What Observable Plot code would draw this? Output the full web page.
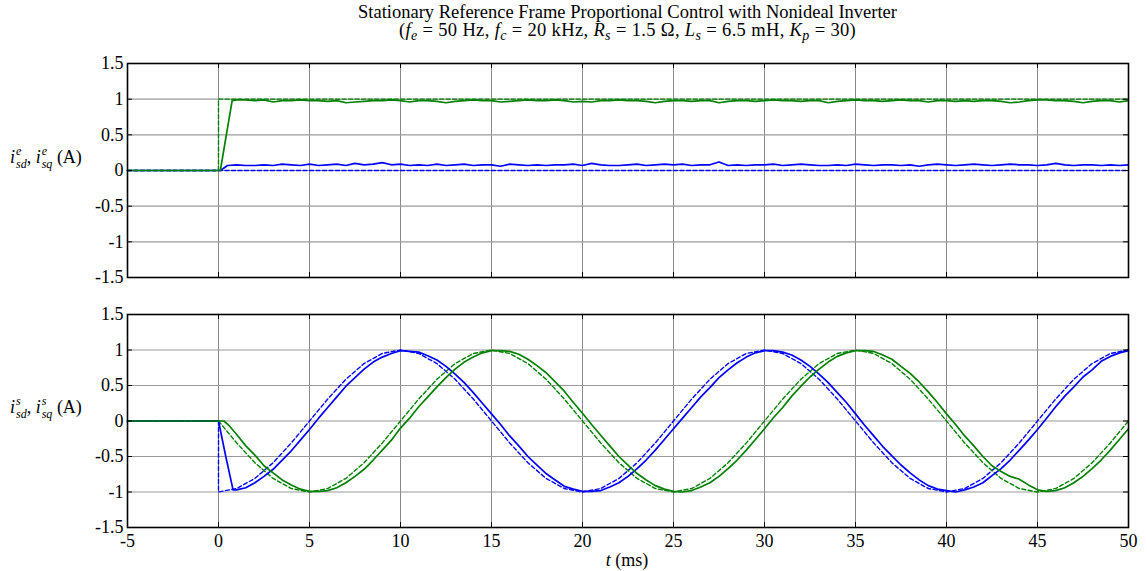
<!DOCTYPE html>
<html><head><meta charset="utf-8">
<script src="https://cdn.jsdelivr.net/npm/d3@7"></script>
<script src="https://cdn.jsdelivr.net/npm/@observablehq/plot@0.6"></script>
<style>
body{margin:0;background:#fff;}
#wrap{position:relative;width:1147px;height:571px;font-family:"Liberation Serif","Times New Roman",serif;color:#000;overflow:hidden;}
#title{position:absolute;left:127px;width:1001px;top:3px;text-align:center;font-size:18.5px;line-height:18px;white-space:nowrap;}
#title .l2{letter-spacing:0.35px;}
#title sub{font-size:14px;vertical-align:-4px;line-height:0;}
.ylab{position:absolute;left:10px;font-size:18px;white-space:nowrap;line-height:20px;}
.st{display:inline-flex;flex-direction:column;vertical-align:8px;font-size:12px;line-height:13px;font-style:italic;margin-left:1px;}
.xlab{position:absolute;left:577px;width:100px;text-align:center;top:550px;font-size:18px;}
svg{position:absolute;left:0;}
</style></head>
<body>
<div id="wrap">
  <div id="title">
    <div>Stationary Reference Frame Proportional Control with Nonideal Inverter</div>
    <div class="l2">(<i>f</i><sub><i>e</i></sub> = 50 Hz, <i>f</i><sub><i>c</i></sub> = 20 kHz, <i>R</i><sub><i>s</i></sub> = 1.5 Ω, <i>L</i><sub><i>s</i></sub> = 6.5 mH, <i>K</i><sub><i>p</i></sub> = 30)</div>
  </div>
  <div class="ylab" style="top:145px"><i>i</i><span class="st"><span>e</span><span>sd</span></span>, <i>i</i><span class="st"><span>e</span><span>sq</span></span> (A)</div>
  <div class="ylab" style="top:395px"><i>i</i><span class="st"><span>s</span><span>sd</span></span>, <i>i</i><span class="st"><span>s</span><span>sq</span></span> (A)</div>
  <div class="xlab"><i>t</i> (ms)</div>
</div>
<script>
// ---- tick labels ----
const xTicks = [-5, 0, 5, 10, 15, 20, 25, 30, 35, 40, 45, 50];
const yTicks = [-1.5, -1, -0.5, 0, 0.5, 1, 1.5];

// ---- top panel (synchronous frame) ----
const topRefDTime = [-5, 50];
const topRefD = [0, 0];
const topRefQTime = [-5, 0, 0, 50];
const topRefQ = [0, 0, 1, 1];
const topDStartTime = [-5, 0.1, 0.5];
const topDStart = [0, 0, 0.07];
const topQStartTime = [-5, 0.1, 0.75];
const topQStart = [0, 0, 0.98];
// measured currents, sampled every 0.5 ms from 1 ms to 50 ms
const topD = [0.08,0.07,0.07,0.08,0.07,0.09,0.08,0.07,0.09,0.07,0.08,0.09,0.07,0.10,0.08,0.09,0.11,0.08,0.09,0.07,
0.08,0.07,0.09,0.07,0.08,0.09,0.07,0.08,0.08,0.06,0.09,0.08,0.07,0.08,0.07,0.08,0.08,0.09,0.07,0.10,
0.08,0.07,0.07,0.08,0.09,0.07,0.08,0.09,0.08,0.09,0.07,0.08,0.08,0.12,0.07,0.08,0.07,0.08,0.08,0.09,
0.07,0.08,0.09,0.08,0.07,0.07,0.08,0.07,0.09,0.08,0.07,0.08,0.08,0.07,0.08,0.06,0.08,0.09,0.08,0.07,
0.08,0.09,0.08,0.07,0.08,0.09,0.08,0.08,0.07,0.08,0.10,0.08,0.07,0.08,0.08,0.07,0.08,0.07,0.08];
const topQ = [0.99,0.99,0.98,0.99,0.96,0.98,0.98,0.99,0.98,0.98,0.97,0.98,0.95,0.96,0.97,0.98,0.98,0.99,0.98,0.96,
0.98,0.98,0.97,0.95,0.97,0.98,0.99,0.98,0.98,0.96,0.97,0.98,0.99,0.98,0.98,0.99,0.98,0.96,0.97,0.96,
0.98,0.98,0.99,0.98,0.98,0.97,0.95,0.97,0.98,0.98,0.97,0.98,0.98,0.95,0.97,0.98,0.98,0.97,0.98,0.99,
0.98,0.98,0.97,0.98,0.98,0.95,0.97,0.98,0.99,0.98,0.98,0.97,0.98,0.99,0.98,0.98,0.96,0.98,0.98,0.97,
0.98,0.97,0.98,0.98,0.97,0.95,0.96,0.98,0.99,0.99,0.98,0.98,0.97,0.95,0.97,0.98,0.98,0.96,0.98];

// ---- bottom panel (stationary frame) ----
// references sampled every 1 ms from 0 to 50 ms
const botRefD = [-1,-0.951,-0.809,-0.588,-0.309,0,0.309,0.588,0.809,0.951,1,0.951,0.809,0.588,0.309,0,-0.309,-0.588,-0.809,-0.951,
-1,-0.951,-0.809,-0.588,-0.309,0,0.309,0.588,0.809,0.951,1,0.951,0.809,0.588,0.309,0,-0.309,-0.588,-0.809,-0.951,
-1,-0.951,-0.809,-0.588,-0.309,0,0.309,0.588,0.809,0.951,1];
const botRefQ = [0,-0.309,-0.588,-0.809,-0.951,-1,-0.951,-0.809,-0.588,-0.309,0,0.309,0.588,0.809,0.951,1,0.951,0.809,0.588,0.309,
0,-0.309,-0.588,-0.809,-0.951,-1,-0.951,-0.809,-0.588,-0.309,0,0.309,0.588,0.809,0.951,1,0.951,0.809,0.588,0.309,
0,-0.309,-0.588,-0.809,-0.951,-1,-0.951,-0.809,-0.588,-0.309,0];
const botRefDStartTime = [-5, 0];
const botRefDStart = [0, 0];
const botRefQStartTime = [-5];
const botRefQStart = [0];
const botDStartTime = [-5, 0, 0.4, 0.8];
const botDStart = [0, 0, -0.5, -0.97];
const botQStartTime = [-5, 0, 0.3, 0.6];
const botQStart = [0, 0, 0, -0.07];
// measured currents, sampled every 0.5 ms from 1 ms to 50 ms
const botD = [-0.97,-0.94,-0.87,-0.78,-0.68,-0.55,-0.42,-0.27,-0.12,0.04,0.19,0.34,0.49,0.61,0.73,0.83,0.90,0.95,0.99,0.98,
0.97,0.92,0.86,0.77,0.66,0.54,0.40,0.25,0.10,-0.05,-0.21,-0.35,-0.50,-0.62,-0.74,-0.83,-0.92,-0.96,-0.99,-0.99,
-0.98,-0.93,-0.87,-0.78,-0.67,-0.55,-0.41,-0.26,-0.11,0.04,0.19,0.34,0.47,0.61,0.72,0.82,0.90,0.96,0.99,0.99,
0.97,0.93,0.86,0.77,0.66,0.54,0.40,0.26,0.10,-0.06,-0.21,-0.36,-0.49,-0.62,-0.73,-0.83,-0.91,-0.96,-0.98,-1.00,
-0.97,-0.93,-0.87,-0.77,-0.67,-0.55,-0.41,-0.27,-0.12,0.04,0.20,0.35,0.48,0.62,0.72,0.84,0.91,0.96,0.99];
const botQ = [-0.19,-0.35,-0.48,-0.63,-0.73,-0.83,-0.90,-0.96,-0.99,-0.99,-0.98,-0.94,-0.87,-0.78,-0.68,-0.55,-0.41,-0.27,-0.10,0.04,
0.20,0.34,0.48,0.61,0.73,0.83,0.90,0.96,0.99,0.99,0.98,0.94,0.87,0.78,0.68,0.55,0.42,0.26,0.11,-0.05,
-0.20,-0.35,-0.50,-0.62,-0.74,-0.83,-0.91,-0.96,-0.99,-1.00,-0.98,-0.93,-0.87,-0.78,-0.67,-0.55,-0.41,-0.26,-0.11,0.05,
0.19,0.35,0.49,0.62,0.73,0.83,0.91,0.96,0.99,0.99,0.98,0.93,0.87,0.77,0.67,0.55,0.41,0.26,0.10,-0.05,
-0.21,-0.35,-0.50,-0.63,-0.71,-0.78,-0.82,-0.90,-0.97,-0.99,-0.98,-0.94,-0.87,-0.78,-0.67,-0.55,-0.41,-0.26,-0.11];

// sample times
const halfMs = d3.range(1, 50.001, 0.5);
const oneMs = d3.range(0, 50.001, 1);

const BLUE = "#0000ff", GREEN = "#008000";
const FONT = "Liberation Serif";
const rows = (ts, vs) => ts.map((t, i) => ({t, v: vs[i]}));

function panel({top, height, marginTop, marginBottom, showX, series}) {
  const W = 1147, mL = 127, mR = 19;
  const innerH = height - marginTop - marginBottom;
  const innerW = W - mL - mR;
  const marks = [
    Plot.gridX(xTicks.filter(d => d > -5 && d < 50), {stroke: "#8a8a8a", strokeOpacity: 1, strokeWidth: 1}),
    Plot.gridY(yTicks.filter(d => d > -1.5 && d < 1.5), {stroke: "#9a9a9a", strokeOpacity: 1, strokeWidth: 1.2})
  ];
  for (const s of series) {
    marks.push(Plot.line(rows(s.t, s.v), {x: "t", y: "v", stroke: s.color, strokeWidth: s.dash ? 1.4 : 1.7,
      strokeDasharray: s.dash ? "4,2.5" : null, curve: "linear"}));
  }
  marks.push(
    Plot.tickX(xTicks, {x: d => d, insetTop: innerH - 5, stroke: "#000"}),
    Plot.tickX(xTicks, {x: d => d, insetBottom: innerH - 5, stroke: "#000"}),
    Plot.tickY(yTicks, {y: d => d, insetRight: innerW - 5, stroke: "#000"}),
    Plot.tickY(yTicks, {y: d => d, insetLeft: innerW - 5, stroke: "#000"}),
    Plot.axisY(yTicks, {tickSize: 0, tickPadding: 4, fontSize: 18, fontFamily: FONT, tickFormat: d => String(d), label: null}),
    Plot.frame({stroke: "#000", strokeWidth: 1.6})
  );
  if (showX) marks.push(Plot.axisX(xTicks, {tickSize: 0, tickPadding: 7, fontSize: 18, fontFamily: FONT, tickFormat: d => String(d), label: null}));
  const svg = Plot.plot({
    width: W, height, marginLeft: mL, marginRight: mR, marginTop, marginBottom,
    x: {domain: [-5, 50], axis: null},
    y: {domain: [-1.5, 1.5], axis: null},
    style: "font-family: 'Liberation Serif', serif; font-size: 18px; background: transparent; color: #000;",
    marks
  });
  svg.style.top = top + "px";
  document.getElementById("wrap").appendChild(svg);
}

panel({top: 50, height: 240, marginTop: 13, marginBottom: 13, showX: false, series: [
  {t: topRefDTime, v: topRefD, color: BLUE, dash: true},
  {t: topRefQTime, v: topRefQ, color: GREEN, dash: true},
  {t: topDStartTime.concat(halfMs), v: topDStart.concat(topD), color: BLUE},
  {t: topQStartTime.concat(halfMs), v: topQStart.concat(topQ), color: GREEN}
]});

panel({top: 300, height: 271, marginTop: 14, marginBottom: 44, showX: true, series: [
  {t: botRefDStartTime.concat(oneMs), v: botRefDStart.concat(botRefD), color: BLUE, dash: true},
  {t: botRefQStartTime.concat(oneMs), v: botRefQStart.concat(botRefQ), color: GREEN, dash: true},
  {t: botDStartTime.concat(halfMs), v: botDStart.concat(botD), color: BLUE},
  {t: botQStartTime.concat(halfMs), v: botQStart.concat(botQ), color: GREEN}
]});
</script>
</body></html>
